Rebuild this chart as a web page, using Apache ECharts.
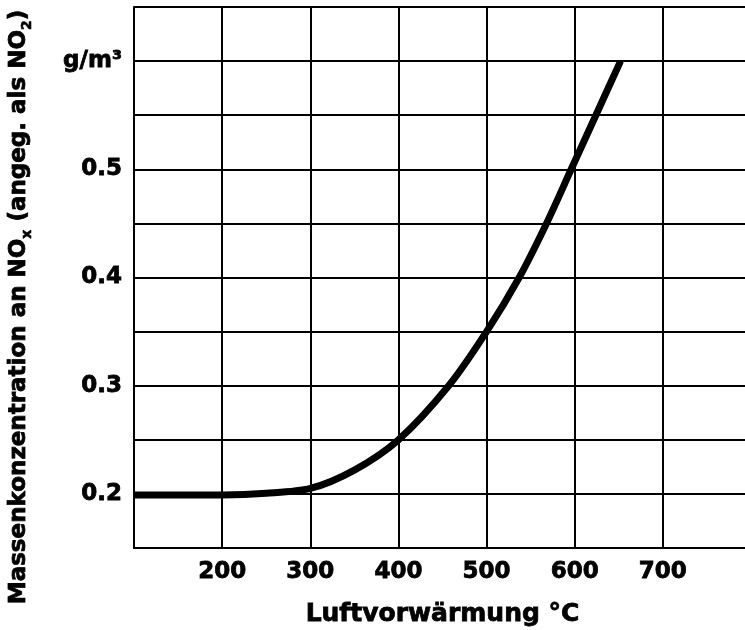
<!DOCTYPE html>
<html>
<head>
<meta charset="utf-8">
<script src="https://cdn.jsdelivr.net/npm/echarts@6/dist/echarts.min.js"></script>
<style>
  html, body { margin: 0; padding: 0; background: #fff; }
  #chart { width: 745px; height: 630px; }
</style>
</head>
<body>
<div id="chart"></div>
<script>
// air preheat temperature (°C) vs NOx mass concentration (g/m3)
const temps = [100, 150, 200, 250, 300, 350, 400, 457, 500, 537, 568, 596, 624, 652];
const noxConc = [0.199, 0.199, 0.199, 0.2005, 0.205, 0.222, 0.25, 0.3, 0.35, 0.4, 0.45, 0.5, 0.55, 0.6];
const xTickLabels = [200, 300, 400, 500, 600, 700];
const yTickLabels = [0.2, 0.3, 0.4, 0.5];
const yUnit = 'g/m³';

const font = 'DejaVu Sans, Verdana, sans-serif';
const ink = '#000';
// the printed lettering is heavier than DejaVu Bold, thicken it a bit
const heavy = { textBorderColor: ink, textBorderWidth: 0.8 };

const chart = echarts.init(document.getElementById('chart'));

chart.setOption({
  backgroundColor: '#fff',
  animation: false,
  grid: { left: 134, width: 617, top: 7, bottom: 82, outerBoundsMode: 'none', containLabel: false },
  xAxis: {
    type: 'value',
    min: 100,
    max: 800,
    interval: 100,
    name: 'Luftvorwärmung °C',
    nameLocation: 'middle',
    nameGap: 54,
    nameTextStyle: { fontFamily: font, fontWeight: 'bold', fontSize: 25, color: ink, ...heavy },
    axisLine: { show: true, lineStyle: { color: ink, width: 2 } },
    axisTick: { show: false },
    splitLine: { show: true, lineStyle: { color: ink, width: 2 } },
    axisLabel: {
      margin: 13,
      fontFamily: font, fontWeight: 'bold', fontSize: 23, color: ink, ...heavy,
      formatter: v => (xTickLabels.includes(v) ? String(v) : '')
    }
  },
  yAxis: {
    type: 'value',
    min: 0.15,
    max: 0.65,
    interval: 0.05,
    axisLine: { show: true, lineStyle: { color: ink, width: 2 } },
    axisTick: { show: false },
    splitLine: { show: true, lineStyle: { color: ink, width: 2 } },
    axisLabel: {
      margin: 12,
      fontFamily: font, fontWeight: 'bold', fontSize: 23, color: ink, ...heavy,
      formatter: v => {
        const r = Math.round(v * 100) / 100;
        if (Math.abs(r - 0.6) < 1e-6) return '{u|' + yUnit + '}';
        return yTickLabels.some(t => Math.abs(t - r) < 1e-6) ? r.toFixed(1) : '';
      },
      rich: {
        u: { fontFamily: font, fontWeight: 'bold', fontSize: 23, color: ink, ...heavy }
      }
    }
  },
  graphic: [{
    type: 'text',
    x: 19,
    y: 307,
    rotation: Math.PI / 2,
    style: {
      text: '{m|Massenkonzentration an NO}{s|x}{m| (angeg. als NO}{s|2}{m|)}',
      align: 'center',
      verticalAlign: 'middle',
      fill: ink,
      rich: {
        m: { fontFamily: font, fontWeight: 'bold', fontSize: 23, lineHeight: 30, fill: ink, stroke: ink, lineWidth: 0.8 },
        s: { fontFamily: font, fontWeight: 'bold', fontSize: 14, lineHeight: 30, verticalAlign: 'bottom', fill: ink, stroke: ink, lineWidth: 0.6 }
      }
    }
  }],
  series: [{
    type: 'line',
    data: temps.map((t, i) => [t, noxConc[i]]),
    smooth: 0.3,
    symbol: 'none',
    lineStyle: { color: ink, width: 7 }
  }]
});
</script>
</body>
</html>
